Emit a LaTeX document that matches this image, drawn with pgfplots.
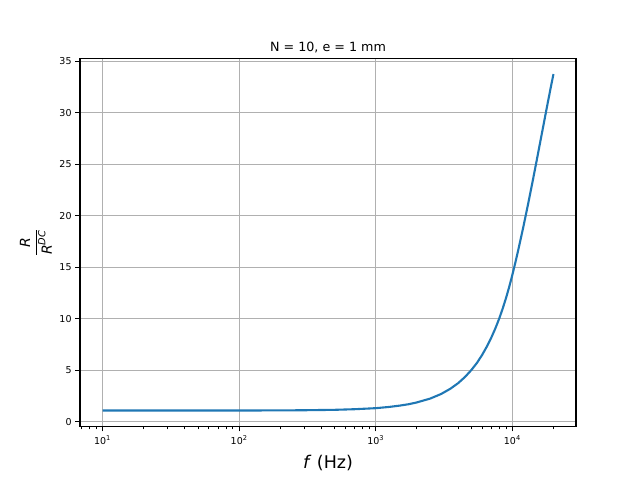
\documentclass[border=0pt]{standalone}
\usepackage{pgfplots}
\pgfplotsset{compat=1.18}
\usepackage{amsmath}
\usepackage{fontspec}
\setmainfont{DejaVu Sans}
\definecolor{mplblue}{HTML}{1F77B4}
\definecolor{mplgrid}{HTML}{B0B0B0}
\begin{document}
\begin{tikzpicture}
\begin{semilogxaxis}[
  scale only axis, width=496pt, height=368pt,
  xmin=6.84, xmax=29240, ymin=-0.48, ymax=35.27,
  xtick={10,100,1000,10000},
  xticklabels={10\textsuperscript{1},10\textsuperscript{2},10\textsuperscript{3},10\textsuperscript{4}},
  minor xtick={7,8,9,20,30,...,90,200,300,...,900,2000,3000,...,9000,20000},
  ytick={0,5,...,35},
  grid=major,
  major grid style={mplgrid, line width=1.1pt},
  axis line style={line width=1.1pt},
  tick align=outside, tick pos=left,
  major tick length=4.9pt, minor tick length=2.8pt,
  every major tick/.style={black, line width=1.1pt},
  every minor tick/.style={black, line width=0.8pt},
  tick label style={font=\fontsize{9.5}{11}\selectfont},
  xticklabel style={yshift=-1pt},
  /pgf/number format/assume math mode=true,
  title={N = 10, e = 1 mm},
  title style={font=\fontsize{12.7}{15}\selectfont, at={(axis description cs:0.5,1.034)}, anchor=center, yshift=-7.5pt},
  xlabel={\textit{f} (Hz)},
  xlabel style={font=\fontsize{17.5}{20}\selectfont, at={(axis description cs:0.5,-0.1)}, anchor=center},
  ylabel={$\dfrac{\textit{R}}{\textit{R}^{\textit{DC}}}$},
  ylabel style={font=\fontsize{14}{16}\selectfont, at={(axis description cs:-0.089,0.5)}, anchor=center, rotate=0},
]
\addplot[mplblue, line width=2.1pt] coordinates {
(10,1.07) (20,1.07) (50,1.07) (100,1.074) (200,1.084) (300,1.10) (500,1.14) (700,1.20)
(1000,1.30) (1250,1.42) (1500,1.55) (1750,1.69) (2000,1.86) (2500,2.23) (3000,2.67)
(3500,3.17) (4000,3.72) (4500,4.33) (5000,4.99) (5500,5.69) (6000,6.46) (6500,7.28)
(7000,8.13) (7500,9.03) (8000,9.98) (8500,10.98) (9000,12.03) (9500,13.12) (10000,14.25)
(10500,15.40) (11000,16.56) (12000,18.83) (13000,21.05) (14000,23.18) (15000,25.22)
(16000,27.16) (17000,28.98) (18000,30.70) (19000,32.29) (20000,33.76)
};
\end{semilogxaxis}
\path ([shift={(-80pt,-53.5pt)}]current axis.south west) rectangle ([shift={(64pt,58.5pt)}]current axis.north east);
\end{tikzpicture}
\end{document}
